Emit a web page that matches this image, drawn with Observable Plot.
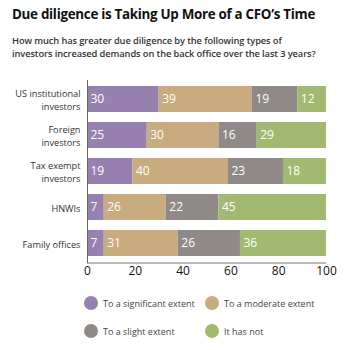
<!DOCTYPE html>
<html>
<head>
<meta charset="utf-8">
<script src="https://cdn.jsdelivr.net/npm/d3@7"></script>
<script src="https://cdn.jsdelivr.net/npm/@observablehq/plot@0.6"></script>
<style>
  html, body { margin: 0; padding: 0; background: #fff; }
  body { width: 350px; height: 350px; overflow: hidden; font-family: "Open Sans", sans-serif; }
  #header { position: relative; height: 66px; }
  #title { position: absolute; left: 12px; top: 5px; font-size: 13.4px; font-weight: 700; color: #111; white-space: nowrap; letter-spacing: -0.3px; }
  #subtitle { position: absolute; left: 12px; top: 34px; font-size: 9.3px; font-weight: 600; color: #333; line-height: 13px; white-space: nowrap; letter-spacing: -0.1px; }
  #legend { position: relative; height: 64px; }
  .li { position: absolute; display: flex; align-items: center; font-size: 9px; color: #444; white-space: nowrap; }
  .sw { width: 14px; height: 14px; border-radius: 50%; margin-right: 5px; }
</style>
</head>
<body>
<div id="header">
  <div id="title"></div>
  <div id="subtitle"></div>
</div>
<div id="chart"></div>
<div id="legend"></div>
<script>
const titleText = "Due diligence is Taking Up More of a CFO\u2019s Time";
const subtitleLines = [
  "How much has greater due diligence by the following types of",
  "investors increased demands on the back office over the last 3 years?"
];
const categories = ["US institutional\ninvestors", "Foreign\ninvestors", "Tax exempt\ninvestors", "HNWIs", "Family offices"];
const seriesNames = ["To a significant extent", "To a moderate extent", "To a slight extent", "It has not"];
const seriesColors = ["#9781b1", "#c8ab7f", "#8f8a87", "#a2b972"];
const significant = [30, 25, 19, 7, 7];
const moderate = [39, 30, 40, 26, 31];
const slight = [19, 16, 23, 22, 26];
const hasNot = [12, 29, 18, 45, 36];
const xTicks = [0, 20, 40, 60, 80, 100];

document.getElementById("title").textContent = titleText;
document.getElementById("subtitle").innerHTML = subtitleLines.join("<br>");

const seriesValues = [significant, moderate, slight, hasNot];
const data = [];
categories.forEach((c, i) => {
  seriesNames.forEach((s, j) => {
    data.push({cat: c, series: s, value: seriesValues[j][i]});
  });
});

const chart = Plot.plot({
  width: 350,
  height: 220,
  marginLeft: 87,
  marginRight: 24,
  marginTop: 14,
  marginBottom: 23,
  style: {fontFamily: "Open Sans, sans-serif", background: "transparent"},
  x: {domain: [0, 100], ticks: xTicks, tickSize: 0, tickPadding: 3, label: null},
  y: {domain: categories, paddingInner: 0.27, paddingOuter: 0.108, axis: null, label: null},
  color: {domain: seriesNames, range: seriesColors},
  marks: [
    Plot.barX(data, {x: "value", y: "cat", fill: "series", order: seriesNames}),
    Plot.text(data, Plot.stackX1({x: "value", y: "cat", z: "series", order: seriesNames, text: "value", textAnchor: "start", dx: 3, fill: "white", fontSize: 12})),
    Plot.text(categories, {x: 0, y: d => d, text: d => d, textAnchor: "end", dx: -7, fill: "#333", fontSize: 9.2, lineHeight: 1.38}),
    Plot.ruleX([0], {stroke: "#666", strokeWidth: 1})
  ]
});
chart.querySelectorAll('[aria-label="x-axis tick label"]').forEach(g => {
  g.setAttribute("font-size", "12");
  g.setAttribute("fill", "#111");
});
document.getElementById("chart").appendChild(chart);

// x-axis baseline
const svg = d3.select(chart);
const xs = chart.scale("x");
svg.append("line")
  .attr("x1", xs.apply(0)).attr("x2", xs.apply(100))
  .attr("y1", 197).attr("y2", 197)
  .attr("stroke", "#777").attr("stroke-width", 1);

const legend = document.getElementById("legend");
const pos = [[84, 10], [205, 10], [84, 38], [205, 38]];
seriesNames.forEach((s, i) => {
  const d = document.createElement("div");
  d.className = "li";
  d.style.left = pos[i][0] + "px";
  d.style.top = pos[i][1] + "px";
  d.innerHTML = `<span class="sw" style="background:${seriesColors[i]}"></span>${s}`;
  legend.appendChild(d);
});
</script>
</body>
</html>
